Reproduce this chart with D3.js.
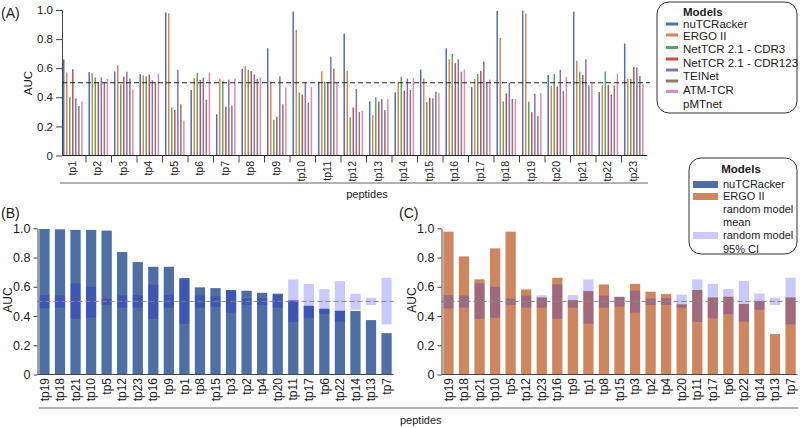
<!DOCTYPE html>
<html>
<head>
<meta charset="utf-8">
<script src="https://cdn.jsdelivr.net/npm/d3@7"></script>
<style>
  body { margin: 0; background: #fff; }
  text { font-family: "Liberation Sans", Arial, Helvetica, sans-serif; fill: #1a1a1a; }
</style>
</head>
<body>
<svg id="chart" width="800" height="428"></svg>
<script>
// ---- data ----
var peptides = d3.range(1, 24).map(function(i){ return 'tp' + i });
var models = ['nuTCRacker', 'ERGO II', 'NetTCR 2.1 - CDR3', 'NetTCR 2.1 - CDR123', 'TEINet', 'ATM-TCR', 'pMTnet'];
var modelColors = ['#4c72b0', '#dd8452', '#55a868', '#c44e52', '#8172b3', '#937860', '#da8bc3'];

// AUC per peptide, tp1 .. tp23
var nuTCRacker = [.660, .573, .578, .559, .984, .450, .283, .596, .737, .989, .507, .838, .372, .434, .591, .737, .470, .993, .995, .553, .989, .436, .769];
var ergoII     = [.571, .566, .620, .550, .977, .532, .527, .616, .509, .863, .578, .582, .277, .503, .530, .662, .527, .808, .977, .480, .651, .482, .527];
var netCDR3    = [.400, .537, .490, .544, .330, .569, .512, .589, .244, .433, .508, .264, .400, .542, .366, .698, .560, .372, .370, .560, .576, .578, .526];
var netCDR123  = [.594, .506, .542, .555, .314, .519, .336, .580, .266, .418, .503, .330, .370, .445, .397, .634, .582, .427, .298, .474, .553, .485, .609];
var teinet     = [.393, .537, .576, .519, .589, .535, .521, .558, .544, .499, .679, .458, .388, .528, .393, .661, .646, .499, .424, .589, .661, .418, .605];
var atmTCR     = [.341, .506, .530, .506, .352, .384, .343, .526, .352, .361, .596, .300, .312, .451, .438, .576, .499, .388, .271, .442, .481, .481, .546];
var pmtnet     = [.372, .526, .454, .562, .240, .571, .528, .535, .467, .472, .497, .307, .388, .535, .429, .591, .521, .388, .429, .542, .499, .562, .490];
var modelValues = [nuTCRacker, ergoII, netCDR3, netCDR123, teinet, atmTCR, pmtnet];

// panels B and C: peptides sorted by nuTCRacker AUC, random model 95% CI
var sortedPeptides = ['tp19','tp18','tp21','tp10','tp5','tp12','tp23','tp16','tp9','tp1','tp8','tp15','tp3','tp2','tp4','tp20','tp11','tp17','tp6','tp22','tp14','tp13','tp7'];
var ciLow  = [.453, .457, .380, .388, .476, .457, .457, .381, .457, .347, .457, .463, .423, .476, .476, .457, .360, .385, .413, .362, .443, .475, .343];
var ciHigh = [.543, .540, .623, .600, .518, .540, .542, .616, .543, .650, .540, .534, .574, .520, .522, .546, .650, .620, .584, .639, .553, .525, .662];
var randomMean = 0.5;
var yTicks = [0, 0.2, 0.4, 0.6, 0.8, 1.0];

var svg = d3.select('#chart');
var fmt = function(d){ return d === 0 ? '0' : d3.format('.1f')(d) };

// ================= panel A =================
var xA = d3.scaleBand().domain(peptides).range([60.5, 647]);
var xInner = d3.scaleBand().domain(models).range([1.7, 22.9]);
var yA = d3.scaleLinear().domain([0, 1]).range([155.5, 10]);

var gA = svg.append('g').attr('class', 'panel-a');

peptides.forEach(function(p, pi){
    gA.selectAll(null)
      .data(models)
      .enter().append('rect')
        .attr('x', function(m){ return xA(p) + xInner(m) + xInner.bandwidth()/2 - 0.75 })
        .attr('y', function(m, mi){ return yA(modelValues[mi][pi]) })
        .attr('width', 1.5)
        .attr('height', function(m, mi){ return yA(0) - yA(modelValues[mi][pi]) })
        .attr('fill', function(m, mi){ return modelColors[mi] });
});

// baseline + dashed random line
gA.append('line').attr('x1', 62).attr('x2', 647).attr('y1', yA(0)).attr('y2', yA(0))
    .attr('stroke', '#222').attr('stroke-width', 1);
gA.append('line').attr('x1', 62).attr('x2', 650).attr('y1', yA(randomMean)).attr('y2', yA(randomMean))
    .attr('stroke', '#222').attr('stroke-width', 1.2).attr('stroke-dasharray', '5,3');

// y axis
var yAxisA = gA.append('g')
    .attr('transform', 'translate(62,0)')
    .call(d3.axisLeft(yA).tickValues(yTicks).tickFormat(fmt).tickSize(6).tickSizeOuter(0));
yAxisA.selectAll('text').style('font-size', '11.5px').attr('fill', '#1a1a1a');
yAxisA.selectAll('line, path').attr('stroke', '#444');

// group separators and labels
gA.selectAll('.sep')
  .data(peptides.slice(1))
  .enter().append('line')
    .attr('x1', function(p){ return xA(p) }).attr('x2', function(p){ return xA(p) })
    .attr('y1', yA(0)).attr('y2', yA(0) + 7)
    .attr('stroke', '#444');
gA.selectAll('.tplabel')
  .data(peptides)
  .enter().append('text')
    .attr('transform', function(p){ return 'translate(' + (xA(p) + xA.bandwidth()/2 - 1) + ',161) rotate(-90)' })
    .attr('text-anchor', 'end')
    .attr('dy', '0.35em')
    .style('font-size', '10.5px')
    .text(function(p){ return p });

gA.append('line').attr('x1', 60).attr('x2', 648).attr('y1', 183).attr('y2', 183)
    .attr('stroke', '#999').attr('stroke-width', 1.5);
gA.append('text').attr('x', 367).attr('y', 198).attr('text-anchor', 'middle')
    .style('font-size', '11px').text('peptides');
gA.append('text').attr('transform', 'translate(32,83) rotate(-90)').attr('text-anchor', 'middle')
    .style('font-size', '11.5px').text('AUC');
gA.append('text').attr('x', 1).attr('y', 18).style('font-size', '14px').text('(A)');

// legend A
var legA = svg.append('g');
legA.append('rect').attr('x', 657).attr('y', 2).attr('width', 140).attr('height', 111).attr('rx', 12)
    .attr('fill', 'none').attr('stroke', '#333');
legA.append('text').attr('x', 683).attr('y', 16).style('font-size', '11.5px').style('font-weight', 'bold').text('Models');
var swatchY = [24, 35, 47.5, 59, 70, 81, 91.5];
var labelY = [24, 35.5, 49, 62.5, 76, 90, 103.5];
legA.selectAll('.sw')
  .data(modelColors)
  .enter().append('rect')
    .attr('x', 666).attr('y', function(c, i){ return swatchY[i] - 1.5 })
    .attr('width', 12).attr('height', 3)
    .attr('fill', function(c){ return c });
legA.selectAll('.lb')
  .data(models)
  .enter().append('text')
    .attr('x', 683).attr('y', function(m, i){ return labelY[i] })
    .attr('dy', '0.35em')
    .style('font-size', '11.5px')
    .text(function(m){ return m });

// ================= panels B and C =================
function drawSorted(x0, values, color, label, labelX){
    var x = d3.scaleBand().domain(sortedPeptides).range([x0, x0 + 356]).paddingInner(0.34).paddingOuter(0.116);
    var y = d3.scaleLinear().domain([0, 1]).range([374.5, 228.3]);
    var g = svg.append('g');

    var lookup = function(p){ return values[peptides.indexOf(p)] };

    g.selectAll('.bar')
      .data(sortedPeptides)
      .enter().append('rect')
        .attr('x', function(p){ return x(p) })
        .attr('y', function(p){ return y(lookup(p)) })
        .attr('width', x.bandwidth())
        .attr('height', function(p){ return y(0) - y(lookup(p)) })
        .attr('fill', color);

    // random model 95% CI
    g.selectAll('.ci')
      .data(sortedPeptides)
      .enter().append('rect')
        .attr('x', function(p){ return x(p) })
        .attr('y', function(p, i){ return y(ciHigh[i]) })
        .attr('width', x.bandwidth())
        .attr('height', function(p, i){ return y(ciLow[i]) - y(ciHigh[i]) })
        .attr('fill', '#0000f0').attr('fill-opacity', 0.21);

    g.append('line').attr('x1', x0).attr('x2', x0 + 356).attr('y1', y(randomMean)).attr('y2', y(randomMean))
        .attr('stroke', '#888').attr('stroke-width', 1).attr('stroke-dasharray', '5,3');

    g.append('line').attr('x1', x0).attr('x2', x0 + 356).attr('y1', y(0)).attr('y2', y(0))
        .attr('stroke', '#444');
    var yAxis = g.append('g')
        .attr('transform', 'translate(' + x0 + ',0)')
        .call(d3.axisLeft(y).tickValues(yTicks).tickFormat(fmt).tickSize(4).tickSizeOuter(0));
    yAxis.selectAll('text').style('font-size', '12.5px').attr('fill', '#1a1a1a');
    yAxis.selectAll('line, path').attr('stroke', '#444');

    g.selectAll('.tplabel')
      .data(sortedPeptides)
      .enter().append('text')
        .attr('transform', function(p){ return 'translate(' + (x(p) + x.bandwidth()/2) + ',378) rotate(-90)' })
        .attr('text-anchor', 'end')
        .attr('dy', '0.35em')
        .style('font-size', '12px')
        .text(function(p){ return p });

    g.append('text').attr('transform', 'translate(' + (x0 - 26) + ',300) rotate(-90)').attr('text-anchor', 'middle')
        .style('font-size', '12px').text('AUC');
    g.append('text').attr('x', labelX).attr('y', 218).style('font-size', '14px').text(label);
}

drawSorted(37.5, nuTCRacker, '#4f6ea3', '(B)', 1);
drawSorted(441.5, ergoII, '#cd8660', '(C)', 399);

svg.append('line').attr('x1', 39).attr('x2', 798).attr('y1', 408).attr('y2', 408)
    .attr('stroke', '#999').attr('stroke-width', 1.5);
svg.append('text').attr('x', 400).attr('y', 424).style('font-size', '11px').text('peptides');

// legend B / C
var legB = svg.append('g');
legB.append('rect').attr('x', 689).attr('y', 158).attr('width', 108).attr('height', 96).attr('rx', 12)
    .attr('fill', '#fff').attr('stroke', '#333');
legB.append('text').attr('x', 741).attr('y', 173).attr('text-anchor', 'middle')
    .style('font-size', '11.5px').style('font-weight', 'bold').text('Models');
var legBItems = [
    {label: 'nuTCRacker', y: 184.5, fill: '#4f6ea3', opacity: 1},
    {label: 'ERGO II', y: 196.5, fill: '#cd8660', opacity: 1},
    {label: 'random model', y: 209, fill: 'none', opacity: 1},
    {label: 'random model', y: 235.5, fill: '#0000f0', opacity: 0.21}
];
legB.selectAll('.sw')
  .data(legBItems.filter(function(d){ return d.fill !== 'none' }))
  .enter().append('rect')
    .attr('x', 693).attr('y', function(d){ return d.y - 3.5 })
    .attr('width', 25).attr('height', 7)
    .attr('fill', function(d){ return d.fill }).attr('fill-opacity', function(d){ return d.opacity });
var legBText = [['nuTCRacker', 184.5], ['ERGO II', 196.5], ['random model', 209], ['mean', 222], ['random model', 235.5], ['95% CI', 249]];
legB.selectAll('.lb')
  .data(legBText)
  .enter().append('text')
    .attr('x', 723).attr('y', function(d){ return d[1] })
    .attr('dy', '0.35em')
    .style('font-size', '11px')
    .text(function(d){ return d[0] });
</script>
</body>
</html>
